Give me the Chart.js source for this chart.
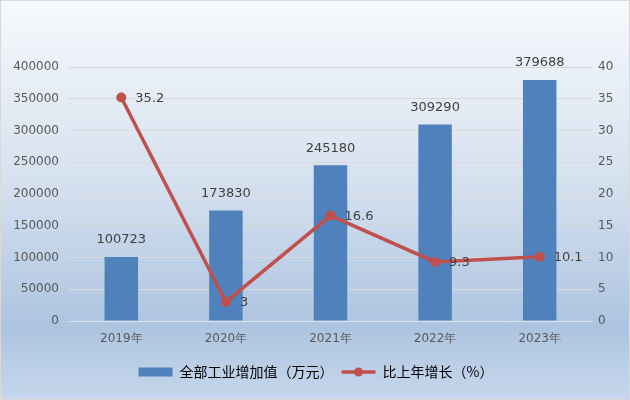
<!DOCTYPE html>
<html><head><meta charset="utf-8">
<script src="https://cdn.jsdelivr.net/npm/chart.js@4.4.0/dist/chart.umd.min.js"></script>
<style>
html,body{margin:0;padding:0;}
#wrap{position:relative;width:628px;height:398px;border:1px solid #d9d9d9;
background:linear-gradient(to bottom,#f6f9fd 0%,#d6e1ef 45%,#adc4e0 82%,#c6d7ec 100%);}
canvas{display:block;}
</style></head>
<body>
<div id="wrap"><canvas id="c" width="628" height="398"></canvas></div>
<script>
const categories = ['2019年','2020年','2021年','2022年','2023年'];
const industryValue = [100723,173830,245180,309290,379688];
const growthRate = [35.2,3,16.6,9.3,10.1];
const leftTicks = [0,50000,100000,150000,200000,250000,300000,350000,400000];
const rightTicks = [0,5,10,15,20,25,30,35,40];

const labelPlugin = {
  id:'labels',
  afterDatasetsDraw(chart){
    const ctx = chart.ctx;
    ctx.save();
    ctx.font = '13px "DejaVu Sans", sans-serif';
    ctx.fillStyle = '#404040';
    const bars = chart.getDatasetMeta(0).data;
    ctx.textAlign='center'; ctx.textBaseline='middle';
    bars.forEach((b,i)=>{ ctx.fillText(String(industryValue[i]), b.x, b.y-17); });
    const pts = chart.getDatasetMeta(1).data;
    ctx.textAlign='left';
    pts.forEach((p,i)=>{ ctx.fillText(String(growthRate[i]), p.x+14, p.y+1); });
    ctx.restore();
  },
  afterDraw(chart){
    const lg = chart.legend;
    if(!lg || !lg.legendHitBoxes) return;
    const hb = lg.legendHitBoxes[1];
    const ctx = chart.ctx;
    ctx.save();
    ctx.fillStyle = '#C0504D';
    ctx.beginPath();
    ctx.arc(hb.left+17, hb.top+hb.height/2, 4.5, 0, Math.PI*2);
    ctx.fill();
    ctx.restore();
  }
};

new Chart(document.getElementById('c'),{
  data:{
    labels:categories,
    datasets:[
      {type:'bar',label:'全部工业增加值（万元）',data:industryValue,yAxisID:'y',
       backgroundColor:'#4F81BD',borderWidth:0,categoryPercentage:1,barPercentage:0.32,order:2},
      {type:'line',label:'比上年增长（%）',data:growthRate,yAxisID:'y1',
       borderColor:'#C0504D',backgroundColor:'#C0504D',borderWidth:3.5,
       pointStyle:'circle',pointRadius:5,pointHoverRadius:5,pointBackgroundColor:'#C0504D',
       pointBorderColor:'#C0504D',pointBorderWidth:0,tension:0,order:1}
    ]
  },
  options:{
    responsive:false,animation:false,
    layout:{padding:{top:66,left:6,right:4,bottom:10}},
    plugins:{
      tooltip:{enabled:false},
      legend:{position:'bottom',
        labels:{usePointStyle:true,pointStyleWidth:34,boxHeight:9,padding:8,
          color:'#404040',font:{family:'"Noto Sans CJK SC", sans-serif',size:14},
          generateLabels(chart){
            const d=chart.data.datasets;
            return [
              {text:d[0].label,fillStyle:'#4F81BD',strokeStyle:'#4F81BD',lineWidth:0,pointStyle:'rect',datasetIndex:0,hidden:false},
              {text:d[1].label,fillStyle:'#C0504D',strokeStyle:'#C0504D',lineWidth:3.5,pointStyle:'line',datasetIndex:1,hidden:false}
            ];
          }}
      }
    },
    scales:{
      x:{grid:{display:false},border:{color:'#dde3ec'},
         ticks:{color:'#595959',font:{family:'"DejaVu Sans", sans-serif',size:12},padding:3},
         afterFit(s){s.height=36;}},
      y:{position:'left',min:0,max:400000,
         afterBuildTicks(s){s.ticks=leftTicks.map(v=>({value:v}));},
         grid:{color:'#d9d9d9',drawTicks:false},border:{display:false},
         ticks:{color:'#595959',font:{family:'"DejaVu Sans", sans-serif',size:12},padding:10,
           callback:(v)=>String(v)},
         afterFit(s){s.width=62;}},
      y1:{position:'right',min:0,max:40,
         afterBuildTicks(s){s.ticks=rightTicks.map(v=>({value:v}));},
         grid:{display:false,drawTicks:false},border:{display:false},
         ticks:{color:'#595959',font:{family:'"DejaVu Sans", sans-serif',size:12},padding:6,
           callback:(v)=>String(v)},
         afterFit(s){s.width=33;}}
    }
  },
  plugins:[labelPlugin]
});
</script>
</body></html>
